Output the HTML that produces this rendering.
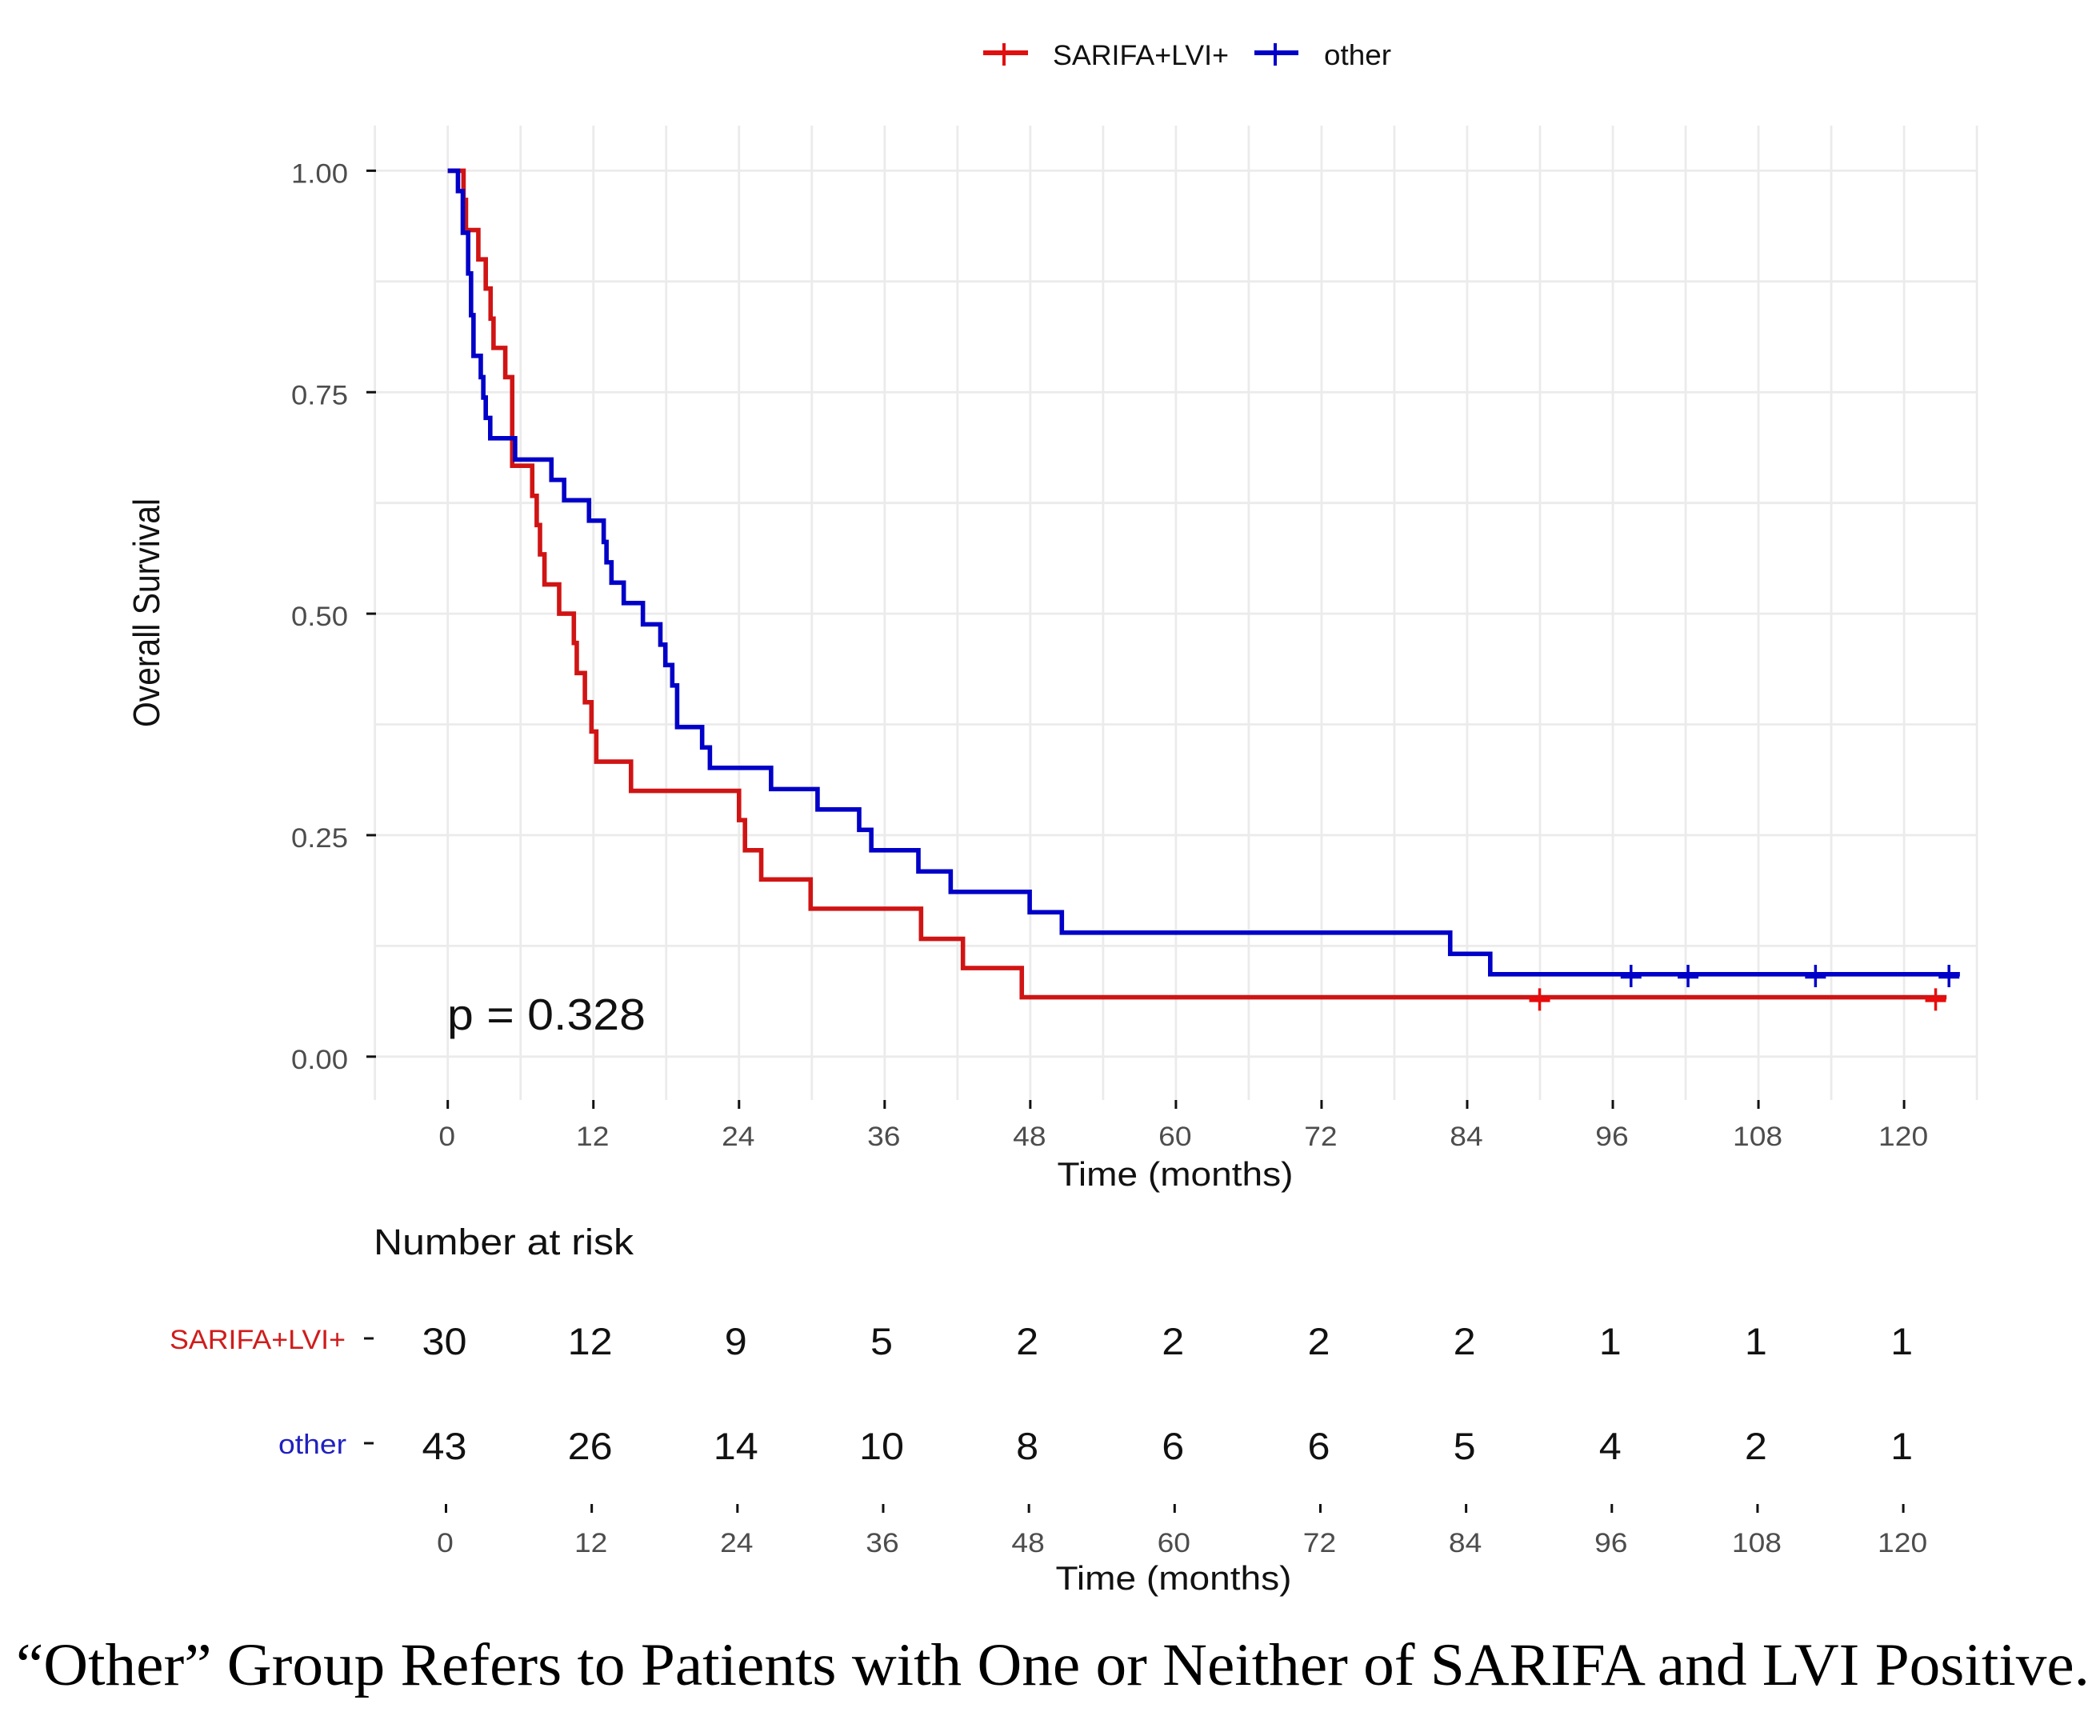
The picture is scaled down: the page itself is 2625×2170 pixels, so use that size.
<!DOCTYPE html>
<html lang="en">
<head>
<meta charset="utf-8">
<title>Overall Survival Kaplan-Meier</title>
<style>
html,body{margin:0;padding:0;background:#fff;}
svg{display:block;}
text{font-family:"Liberation Sans",Arial,sans-serif;}
</style>
</head>
<body>
<svg id="chart" xmlns="http://www.w3.org/2000/svg" width="2625" height="2170" viewBox="0 0 2625 2170">
  <rect x="0" y="0" width="2625" height="2170" fill="#ffffff"/>
  <g id="grid"></g>
  <g id="axes"></g>
  <g id="curves"></g>
  <g id="risk"></g>

  <g>
    <g>
      <line x1="1229" x2="1285" y1="66" y2="66" stroke="#e01010" stroke-width="6"/>
      <line x1="1255" x2="1255" y1="54" y2="82" stroke="#e01010" stroke-width="4"/>
      <text x="1316" y="81" font-size="35" textLength="220" lengthAdjust="spacingAndGlyphs" fill="#111">SARIFA+LVI+</text>
    </g>
    <g>
      <line x1="1568" x2="1623" y1="66" y2="66" stroke="#0000c8" stroke-width="6"/>
      <line x1="1594" x2="1594" y1="54" y2="82" stroke="#0000c8" stroke-width="4"/>
      <text x="1655" y="81" font-size="36" textLength="84" lengthAdjust="spacingAndGlyphs" fill="#111">other</text>
    </g>
  </g>

  <text transform="translate(199,909) rotate(-90) scale(1,1.12)" font-size="41" textLength="286" lengthAdjust="spacingAndGlyphs" fill="#111">Overall Survival</text>
  <text x="1469" y="1482" font-size="42" text-anchor="middle" textLength="295" lengthAdjust="spacingAndGlyphs" fill="#111">Time (months)</text>
  <text x="559" y="1287" font-size="55" textLength="248" lengthAdjust="spacingAndGlyphs" fill="#111">p = 0.328</text>
  <text x="467" y="1568" font-size="45" textLength="325" lengthAdjust="spacingAndGlyphs" fill="#111">Number at risk</text>
  <text x="432" y="1686" font-size="34" text-anchor="end" textLength="220" lengthAdjust="spacingAndGlyphs" fill="#d01c1c">SARIFA+LVI+</text>
  <text x="433" y="1817" font-size="34" text-anchor="end" textLength="85" lengthAdjust="spacingAndGlyphs" fill="#2020c0">other</text>
  <text x="1467" y="1987" font-size="42" text-anchor="middle" textLength="295" lengthAdjust="spacingAndGlyphs" fill="#111">Time (months)</text>
  <text x="20" y="2106" font-size="75" textLength="2592" lengthAdjust="spacingAndGlyphs" fill="#000" style="font-family:'Liberation Serif',serif">“Other” Group Refers to Patients with One or Neither of SARIFA and LVI Positive.</text>
</svg>

<script>
var xTickLabels = [0, 12, 24, 36, 48, 60, 72, 84, 96, 108, 120];
var yTickLabels = ["0.00", "0.25", "0.50", "0.75", "1.00"];
var yTickValues = [0, 0.25, 0.5, 0.75, 1];
var yGridValues = [0, 0.125, 0.25, 0.375, 0.5, 0.625, 0.75, 0.875, 1];
var xGridValues = [-6, 0, 6, 12, 18, 24, 30, 36, 42, 48, 54, 60, 66, 72, 78, 84, 90, 96, 102, 108, 114, 120, 126];

var redTimes = [1.3, 1.5, 2.52, 3.13, 3.53, 3.77, 4.74, 5.31, 6.96, 7.33, 7.6, 7.97, 9.18, 10.39, 10.63, 11.3, 11.84, 12.24, 15.1, 24.0, 24.49, 25.83, 29.9, 39.0, 42.45, 47.3];
var redSurvival = [0.967, 0.933, 0.9, 0.867, 0.833, 0.8, 0.767, 0.667, 0.633, 0.6, 0.567, 0.533, 0.5, 0.467, 0.433, 0.4, 0.367, 0.333, 0.3, 0.267, 0.233, 0.2, 0.167, 0.133, 0.1, 0.067];
var redEndTime = 123.5;
var redCensorTimes = [89.97, 122.6];
var redCensorSurvival = [0.0645, 0.0645];

var blueTimes = [0.84, 1.24, 1.68, 1.92, 2.12, 2.72, 2.93, 3.13, 3.5, 5.55, 8.54, 9.59, 11.64, 12.85, 13.08, 13.49, 14.5, 16.08, 17.52, 17.93, 18.5, 18.9, 20.96, 21.6, 26.64, 30.47, 33.9, 34.9, 38.78, 41.44, 47.95, 50.6, 82.6, 85.9];
var blueSurvival = [0.977, 0.93, 0.884, 0.837, 0.791, 0.767, 0.744, 0.721, 0.698, 0.674, 0.651, 0.628, 0.605, 0.581, 0.558, 0.535, 0.512, 0.488, 0.465, 0.442, 0.419, 0.372, 0.349, 0.326, 0.302, 0.279, 0.256, 0.233, 0.209, 0.186, 0.163, 0.14, 0.116, 0.093];
var blueEndTime = 124.6;
var blueCensorTimes = [97.5, 102.2, 112.7, 123.7];
var blueCensorSurvival = [0.091, 0.091, 0.091, 0.091];

var riskSarifa = [30, 12, 9, 5, 2, 2, 2, 2, 1, 1, 1];
var riskOther = [43, 26, 14, 10, 8, 6, 6, 5, 4, 2, 1];

var NS = "http://www.w3.org/2000/svg";
var PANEL_TOP = 157, PANEL_BOTTOM = 1375, PANEL_LEFT = 470, PANEL_RIGHT = 2470;

function xScale(t) { return 559.7 + 15.17 * t; }
function yScale(v) { return 1320.8 - 1107.4 * v; }
function riskX(t) { return 557.5 + 15.18 * t; }

function make(tag, parent, attrs, text) {
  var el = document.createElementNS(NS, tag);
  for (var k in attrs) { el.setAttribute(k, attrs[k]); }
  if (text !== undefined) { el.textContent = text; }
  parent.appendChild(el);
  return el;
}

var grid = document.getElementById("grid");
var axes = document.getElementById("axes");
var curves = document.getElementById("curves");
var risk = document.getElementById("risk");

xGridValues.forEach(function (t) {
  var el = make("line", grid, { x1: xScale(t), x2: xScale(t), y1: PANEL_TOP, y2: PANEL_BOTTOM, stroke: "#ebebeb", "stroke-width": 2.8 });
  
  
});
yGridValues.forEach(function (v) {
  var el = make("line", grid, { x1: PANEL_LEFT, x2: PANEL_RIGHT, y1: yScale(v), y2: yScale(v), stroke: "#ebebeb", "stroke-width": 2.8 });
  
  
});

yTickValues.forEach(function (v, i) {
  var tick = make("line", axes, { x1: 458, x2: 470, y1: yScale(v), y2: yScale(v), stroke: "#111", "stroke-width": 3 });
  
  
  var label = make("text", axes, { x: 435, y: yScale(v) + 15, "font-size": 34, "text-anchor": "end", fill: "#4d4d4d", textLength: 71, lengthAdjust: "spacingAndGlyphs" }, yTickLabels[i]);
  
  
});

xTickLabels.forEach(function (t) {
  var tick = make("line", axes, { x1: xScale(t), x2: xScale(t), y1: 1375, y2: 1386, stroke: "#111", "stroke-width": 3 });
  
  
  var label = make("text", axes, { x: xScale(t) - 1, y: 1432, "font-size": 34, "text-anchor": "middle", fill: "#4d4d4d", textLength: 20.7 * String(t).length, lengthAdjust: "spacingAndGlyphs" }, String(t));
  
  
});

function stepPath(times, values, endTime) {
  var d = "M" + xScale(0) + " " + yScale(1);
  for (var i = 0; i < times.length; i++) {
    d += "H" + xScale(times[i]) + "V" + yScale(values[i]);
  }
  return d + "H" + xScale(endTime);
}

var redLine = make("path", curves, { d: stepPath(redTimes, redSurvival, redEndTime), fill: "none", stroke: "#d01414", "stroke-width": 5.6 });



var blueLine = make("path", curves, { d: stepPath(blueTimes, blueSurvival, blueEndTime), fill: "none", stroke: "#0000c8", "stroke-width": 5.6 });



function drawCensors(times, values, color, seriesName) {
  times.forEach(function (t, i) {
    var cx = xScale(t), cy = yScale(values[i]);
    var h = make("line", curves, { x1: cx - 13, x2: cx + 13, y1: cy, y2: cy, stroke: color, "stroke-width": 6.5 });
    
    
    var v = make("line", curves, { x1: cx, x2: cx, y1: cy - 14, y2: cy + 14, stroke: color, "stroke-width": 3.5 });
    
    
  });
}
drawCensors(redCensorTimes, redCensorSurvival, "#e80c0c", "sarifa-lvi");
drawCensors(blueCensorTimes, blueCensorSurvival, "#0000c8", "other");

function drawRiskRow(values, baseline, tickY, name) {
  values.forEach(function (n, i) {
    var label = make("text", risk, { x: riskX(xTickLabels[i]) - 2, y: baseline, "font-size": 47, "text-anchor": "middle", fill: "#111", textLength: 28 * String(n).length, lengthAdjust: "spacingAndGlyphs" }, String(n));
    
    
  });
  var tick = make("line", risk, { x1: 455, x2: 467, y1: tickY, y2: tickY, stroke: "#111", "stroke-width": 3 });
  
  
}
drawRiskRow(riskSarifa, 1693, 1673, "risk-sarifa-lvi");
drawRiskRow(riskOther, 1824, 1804, "risk-other");

xTickLabels.forEach(function (t) {
  var tick = make("line", risk, { x1: riskX(t), x2: riskX(t), y1: 1880, y2: 1891, stroke: "#111", "stroke-width": 3 });
  
  
  var label = make("text", risk, { x: riskX(t) - 1, y: 1940, "font-size": 34, "text-anchor": "middle", fill: "#4d4d4d", textLength: 20.7 * String(t).length, lengthAdjust: "spacingAndGlyphs" }, String(t));
  
  
});
</script>
</body>
</html>
